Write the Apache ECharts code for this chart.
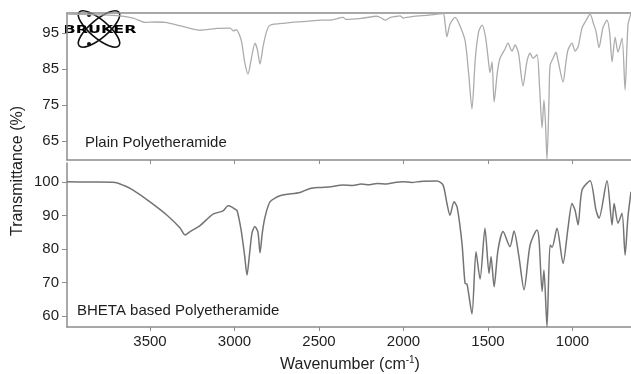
<!DOCTYPE html>
<html>
<head>
<meta charset="utf-8">
<title>FTIR</title>
<script src="https://cdn.jsdelivr.net/npm/echarts@6/dist/echarts.min.js"></script>
<style>
	html,body{margin:0;padding:0;background:#fff}
	#chart{width:631px;height:374px}
</style>
</head>
<body>
<div id="chart"></div>
<script>
	// x ticks (cm-1) and y ticks of both panels
	var xTicks = [1000, 1500, 2000, 2500, 3000, 3500];
	var topTicks = [65, 75, 85, 95];
	var bottomTicks = [60, 70, 80, 90, 100];

	// Plain Polyetheramide
	var topWn = [3991, 3900, 3780, 3677, 3600, 3529, 3470, 3411, 3300, 3204, 3100, 3026, 3005, 2990, 2960, 2940, 2920, 2900, 2879, 2865, 2849, 2830, 2810, 2790, 2700, 2600, 2494, 2420, 2358, 2340, 2250, 2157, 2130, 2109, 2080, 2050, 2021, 2000, 1950, 1850, 1766, 1755, 1743, 1725, 1695, 1670, 1636, 1615, 1595, 1575, 1555, 1535, 1515, 1500, 1488, 1476, 1464, 1445, 1429, 1400, 1382, 1358, 1340, 1320, 1293, 1270, 1251, 1234, 1210, 1195, 1180, 1169, 1160, 1151, 1140, 1133, 1115, 1098, 1086, 1056, 1040, 1027, 1003, 985, 967, 944, 920, 896, 875, 861, 843, 820, 796, 780, 766, 748, 731, 707, 689, 672, 654];
	var topT = [100.3, 100.2, 100.1, 99.8, 99.2, 98.0, 98.1, 98.0, 96.8, 95.8, 96.3, 96.4, 95.6, 96.0, 93.0, 87.0, 83.6, 88.0, 92.2, 90.5, 86.4, 91.5, 95.5, 97.2, 97.8, 98.2, 98.6, 98.7, 99.4, 98.8, 99.1, 99.7, 99.2, 98.6, 99.3, 99.6, 99.8, 99.2, 99.6, 100.0, 100.4, 98.0, 94.0, 97.5, 99.4, 97.5, 93.0, 84.0, 73.9, 88.0, 95.5, 97.2, 94.0, 88.3, 84.0, 87.0, 75.8, 84.0, 88.0, 90.5, 92.2, 90.0, 91.7, 89.5, 80.3, 87.0, 89.4, 88.0, 89.0, 80.0, 68.6, 76.4, 70.0, 59.8, 75.0, 86.0, 88.0, 89.7, 87.5, 81.4, 86.5, 90.3, 92.2, 90.0, 91.2, 96.4, 98.5, 100.3, 97.5, 95.5, 91.0, 96.5, 98.6, 95.0, 87.0, 93.9, 89.7, 93.6, 79.2, 97.2, 100.5];

	// BHETA based Polyetheramide
	var bottomWn = [3991, 3850, 3707, 3650, 3600, 3500, 3399, 3322, 3293, 3263, 3204, 3127, 3068, 3038, 3015, 2997, 2985, 2961, 2940, 2926, 2910, 2896, 2879, 2861, 2849, 2835, 2819, 2790, 2731, 2612, 2553, 2494, 2430, 2358, 2300, 2250, 2200, 2157, 2100, 2060, 2003, 1950, 1900, 1802, 1766, 1743, 1725, 1701, 1683, 1654, 1636, 1624, 1595, 1571, 1547, 1518, 1494, 1482, 1464, 1441, 1411, 1370, 1346, 1317, 1287, 1251, 1210, 1198, 1180, 1169, 1151, 1133, 1121, 1092, 1056, 1027, 1003, 985, 967, 944, 896, 861, 843, 796, 766, 754, 731, 707, 689, 672, 654];
	var bottomT = [100.1, 100.0, 99.9, 98.9, 97.6, 94.1, 90.1, 86.3, 84.2, 85.2, 87.0, 90.4, 91.4, 92.9, 92.5, 91.9, 91.5, 85.7, 78.0, 72.2, 79.0, 84.9, 86.7, 85.0, 78.9, 85.0, 89.6, 94.1, 95.9, 96.9, 98.1, 98.4, 98.6, 99.1, 99.0, 99.4, 99.2, 99.6, 99.4, 99.8, 100.1, 99.9, 100.2, 100.3, 99.1, 93.6, 90.1, 94.1, 92.6, 81.7, 69.8, 69.5, 60.6, 79.2, 71.0, 86.2, 72.7, 77.7, 68.7, 79.7, 85.2, 80.7, 85.4, 77.7, 67.8, 81.2, 85.7, 82.7, 67.3, 73.7, 56.8, 81.2, 80.5, 86.2, 75.7, 86.2, 93.6, 91.6, 87.2, 97.6, 100.4, 91.6, 89.2, 100.4, 87.2, 93.6, 87.7, 90.7, 78.2, 89.6, 97.1];

	function pairs(xs, ys) {
		var out = [];
		for (var i = 0; i < xs.length; i++) out.push([xs[i], ys[i]]);
		return out;
	}

	var font = '"Liberation Sans", Arial, sans-serif';
	var axisColor = '#8c8c8c';
	var textColor = '#1e1e1e';
	var plain = function (v) { return String(v); };

	function xAxis(grid, pos, showTick, showLabel) {
		return {
			type: 'value', gridIndex: grid, position: pos, inverse: true,
			min: 654, max: 3991,
			axisLine: {show: true, lineStyle: {color: axisColor, width: 1.5}},
			axisTick: {show: showTick, customValues: xTicks, length: 4, lineStyle: {color: axisColor}},
			axisLabel: {show: showLabel, customValues: xTicks, formatter: plain, margin: 7, color: textColor, fontSize: 15, fontFamily: font},
			splitLine: {show: false}
		};
	}
	function yAxis(grid, min, max, ticks) {
		return {
			type: 'value', gridIndex: grid, min: min, max: max,
			axisLine: {show: true, lineStyle: {color: axisColor, width: 1.5}},
			axisTick: {show: true, customValues: ticks, length: 5, lineStyle: {color: axisColor}},
			axisLabel: {customValues: ticks, formatter: plain, margin: 8, color: textColor, fontSize: 15, fontFamily: font},
			splitLine: {show: false}
		};
	}

	var myChart = echarts.init(document.getElementById('chart'));
	var option = {
		animation: false,
		grid: [
			{left: 67, top: 13, width: 564, height: 147},
			{left: 67, top: 163, width: 564, height: 164}
		],
		xAxis: [
			xAxis(0, 'bottom', true, false),
			xAxis(0, 'top', false, false),
			xAxis(1, 'bottom', true, true)
		],
		yAxis: [
			yAxis(0, 59.7, 100.6, topTicks),
			yAxis(1, 56.7, 105.7, bottomTicks)
		],
		series: [
			{
				name: 'Plain Polyetheramide', type: 'line', xAxisIndex: 0, yAxisIndex: 0,
				data: pairs(topWn, topT), showSymbol: false, smooth: 0.25,
				lineStyle: {color: '#acacac', width: 1.3}
			},
			{
				name: 'BHETA based Polyetheramide', type: 'line', xAxisIndex: 2, yAxisIndex: 1,
				data: pairs(bottomWn, bottomT), showSymbol: false, smooth: 0.25,
				lineStyle: {color: '#747474', width: 1.5}
			}
		],
		graphic: [
			{type: 'text', x: 85, y: 143, style: {text: 'Plain Polyetheramide', font: '15px ' + font, fill: textColor, verticalAlign: 'middle'}},
			{type: 'text', x: 77, y: 311, style: {text: 'BHETA based Polyetheramide', font: '15px ' + font, fill: textColor, verticalAlign: 'middle'}},
			{type: 'text', x: 18, y: 171, rotation: Math.PI / 2,
				style: {text: 'Transmittance (%)', font: '16px ' + font, fill: textColor, align: 'center', verticalAlign: 'middle'}},
			{type: 'text', x: 350, y: 365,
				style: {text: '{a|Wavenumber (cm}{s|-1}{a|)}', align: 'center', verticalAlign: 'middle',
					rich: {
						a: {fontSize: 16, fontFamily: font, fill: textColor, color: textColor},
						s: {fontSize: 10, fontFamily: font, fill: textColor, color: textColor, padding: [0, 0, 9, 0]}
					}}},
			// logo
			{type: 'ellipse', x: 99, y: 29, rotation: 0.7, shape: {cx: 0, cy: 0, rx: 26, ry: 9},
				style: {fill: 'none', stroke: '#111', lineWidth: 1.6}},
			{type: 'ellipse', x: 99, y: 29, rotation: -0.7, shape: {cx: 0, cy: 0, rx: 26, ry: 9},
				style: {fill: 'none', stroke: '#111', lineWidth: 1.6}},
			{type: 'circle', shape: {cx: 89, cy: 15, r: 2}, style: {fill: '#111'}},
			{type: 'circle', shape: {cx: 89, cy: 44, r: 2}, style: {fill: '#111'}},
			{type: 'text', x: 100, y: 30, scaleX: 1.45,
				style: {text: 'BRUKER', font: '900 11px "DejaVu Sans", sans-serif', fill: '#000', align: 'center', verticalAlign: 'middle'}}
		]
	};
	myChart.setOption(option);
</script>
</body>
</html>
